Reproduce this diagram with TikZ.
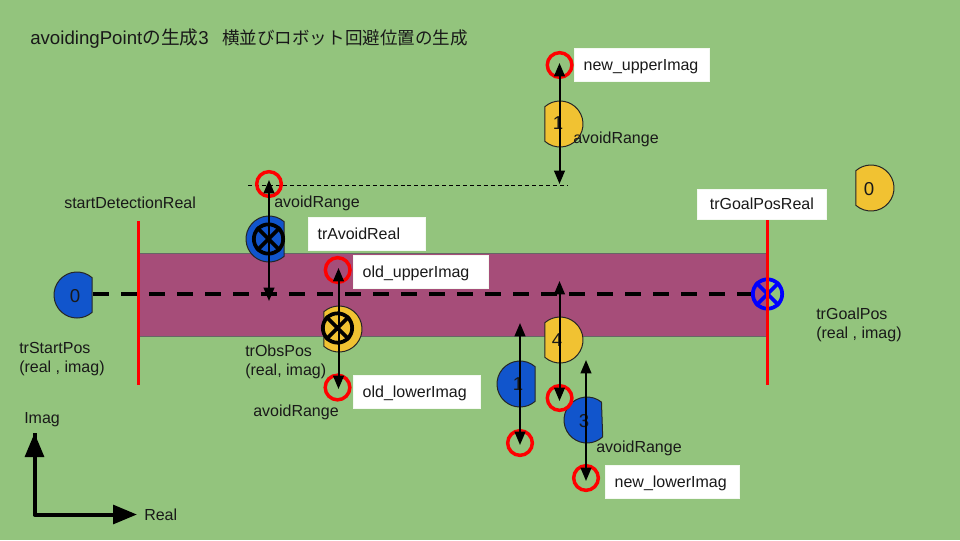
\documentclass[tikz,border=0pt]{standalone}
\usepackage{fontspec}
\setmainfont{Liberation Sans}
\newfontfamily\cjk{Noto Sans CJK JP}
\usetikzlibrary{arrows.meta,calc}
\definecolor{bgcol}{HTML}{93C47D}
\definecolor{bandcol}{HTML}{A64D79}
\definecolor{robblue}{HTML}{1155CC}
\definecolor{robyellow}{HTML}{F1C232}
\tikzset{
  lbl/.style={inner sep=0pt,font=\fontsize{12pt}{14.25pt}\selectfont,text=black!90},
  numlbl/.style={inner sep=0pt,anchor=base,font=\fontsize{14pt}{16pt}\selectfont,text=black!90},
  whitebox/.style={fill=white,draw=white!90!bgcol,line width=.5pt,anchor=north west,inner ysep=0pt,inner xsep=7pt,
    align=left,text height=10pt,text depth=2pt,font=\fontsize{12pt}{14.25pt}\selectfont,text=black!90},
  ring/.style={circle,draw=red,line width=2.6pt,minimum size=18.5pt,inner sep=0pt},
  xring/.style={circle,line width=2.8pt,minimum size=22pt,inner sep=0pt},
  xline/.style={line width=2.8pt},
  redline/.style={draw=red,line width=2.25pt},
  darrow/.style={line width=1.5pt,{Triangle[length=10pt,width=8pt]}-{Triangle[length=10pt,width=8pt]}},
  axis/.style={line width=3pt,-{Triangle[length=18pt,width=14pt]}},
  robo/.style={draw=black!85,line width=.75pt},
}
% #1 centre, #2 rotation, #3 colour
\newcommand{\robotshape}[3]{\draw[robo,fill=#3] ([shift={(#2+49:17.25pt)}]#1) arc[start angle=#2+49,end angle=#2+311,radius=17.25pt] -- cycle;}
\begin{document}
\begin{tikzpicture}[x=.75pt,y=-.75pt]
\useasboundingbox (0,0) rectangle (960,540);
\fill[bgcol] (0,0) rectangle (960,540);
% title
\node[lbl,anchor=base west,font=\fontsize{14pt}{16pt}\selectfont] (title) at (30,44) {avoidingPoint{\cjk の生成}3\hspace{10.2pt}{\cjk\fontsize{13.15pt}{16pt}\selectfont 横並びロボット回避位置の生成}};
% band
\draw[fill=bandcol,draw=black!60,line width=.5pt] (139,253) rectangle (767,336);
% robots
\robotshape{77,295}{0}{robblue}
\robotshape{871,188}{180}{robyellow}
\robotshape{560,124}{180}{robyellow}
\robotshape{560,340}{180}{robyellow}
\robotshape{520,384}{0}{robblue}
\robotshape{587,420}{2}{robblue}
\robotshape{269,239}{0}{robblue}
\robotshape{339,329}{180}{robyellow}
\node[numlbl] (n0s) at (75,302) {0};
\node[numlbl] (n0g) at (869,195) {0};
\node[numlbl] (n1y) at (558,129) {1};
\node[numlbl] (n4y) at (557,346) {4};
\node[numlbl] (n1b) at (518,390) {1};
\node[numlbl] (n3b) at (584,427) {3};
% main dashed line
\node[xring,draw=blue] (goal) at (767.5,294) {};
\coordinate (dashstart) at (93,294);
\draw[line width=3pt,dash pattern=on 12pt off 9pt] (dashstart) -- (goal.west);
\draw[xline,blue] (goal.45) -- (goal.225) (goal.135) -- (goal.315);
% red vertical lines
\coordinate (sdT) at (138.5,221); \coordinate (sdB) at (138.5,385);
\coordinate (gpT) at (767,220); \coordinate (gpB) at (767,385);
\draw[redline] (sdT) -- (sdB);
\draw[redline] (gpT) -- (gpB);
% thin dashed line
\coordinate (rangeL) at (248,185); \coordinate (rangeR) at (567,185);
\draw[line width=.75pt,dash pattern=on 3pt off 2.2pt] (rangeL) -- (rangeR);
% X marks on robots
\node[xring,draw=black] (xa) at (268.5,239) {};
\draw[xline] (xa.45) -- (xa.225) (xa.135) -- (xa.315);
\node[xring,draw=black] (xo) at (337.5,328) {};
\draw[xline] (xo.45) -- (xo.225) (xo.135) -- (xo.315);
% rings
\node[ring] (r1) at (269,184) {};
\node[ring] (r2) at (337.7,270) {};
\node[ring] (r3) at (337.5,387.5) {};
\node[ring] (r4) at (559.6,65) {};
\node[ring] (r5) at (520,443) {};
\node[ring] (r6) at (559.6,398) {};
\node[ring] (r7) at (586,478) {};
% double arrows
\coordinate (a1t) at (269,180); \coordinate (a1b) at (269,301);
\coordinate (a2t) at (338.5,268); \coordinate (a2b) at (338.5,389);
\coordinate (a3t) at (559.5,63); \coordinate (a3b) at (559.5,184);
\coordinate (a4t) at (520,323); \coordinate (a4b) at (520,445);
\coordinate (a5t) at (559.5,281); \coordinate (a5b) at (559.5,401);
\coordinate (a6t) at (586,360); \coordinate (a6b) at (586,481);
\draw[darrow] (a1t) -- (a1b);
\draw[darrow] (a2t) -- (a2b);
\draw[darrow] (a3t) -- (a3b);
\draw[darrow] (a4t) -- (a4b);
\draw[darrow] (a5t) -- (a5b);
\draw[darrow] (a6t) -- (a6b);
% white labels
\node[whitebox,text width=87pt,minimum height=25pt] (b1) at (353,255) {old\_upperImag};
\node[whitebox,text width=73.75pt,minimum height=25pt] (b2) at (308,217) {trAvoidReal};
\node[whitebox,text width=81pt,minimum height=25pt] (b3) at (353,375) {old\_lowerImag};
\node[whitebox,text width=87pt,minimum height=25pt] (b4) at (574,48) {new\_upperImag};
\node[whitebox,text width=86.5pt,minimum height=25pt] (b5) at (605,465) {new\_lowerImag};
\node[whitebox,text width=82.75pt,minimum height=22.5pt,align=center] (b6) at (697,189) {trGoalPosReal};
% plain labels
\node[lbl,anchor=base west] (t1) at (64,208) {startDetectionReal};
\node[lbl,anchor=base west] (t2) at (573,143) {avoidRange};
\node[lbl,anchor=base west] (t3) at (274,207.5) {avoidRange};
\node[lbl,anchor=base west] (t4) at (253,416.5) {avoidRange};
\node[lbl,anchor=base west] (t5) at (596,452.5) {avoidRange};
\node[lbl,anchor=base west,align=left] (t6) at (245,375) {trObsPos\\(real, imag)};
\node[lbl,anchor=base west,align=left] (t7) at (19,372) {trStartPos\\(real , imag)};
\node[lbl,anchor=base west,align=left] (t8) at (816,338) {trGoalPos\\(real , imag)};
\node[lbl,anchor=base west] (t9) at (24,423) {Imag};
\node[lbl,anchor=base west] (t10) at (144,520) {Real};
% axes
\coordinate (org) at (34.5,514.5);
\coordinate (axU) at (34.5,433);
\coordinate (axR) at (137,514.5);
\draw[axis,line join=round] (axU) -- (org) -- (axR);
\draw[axis] (org) -- (axU);
\end{tikzpicture}
\end{document}
